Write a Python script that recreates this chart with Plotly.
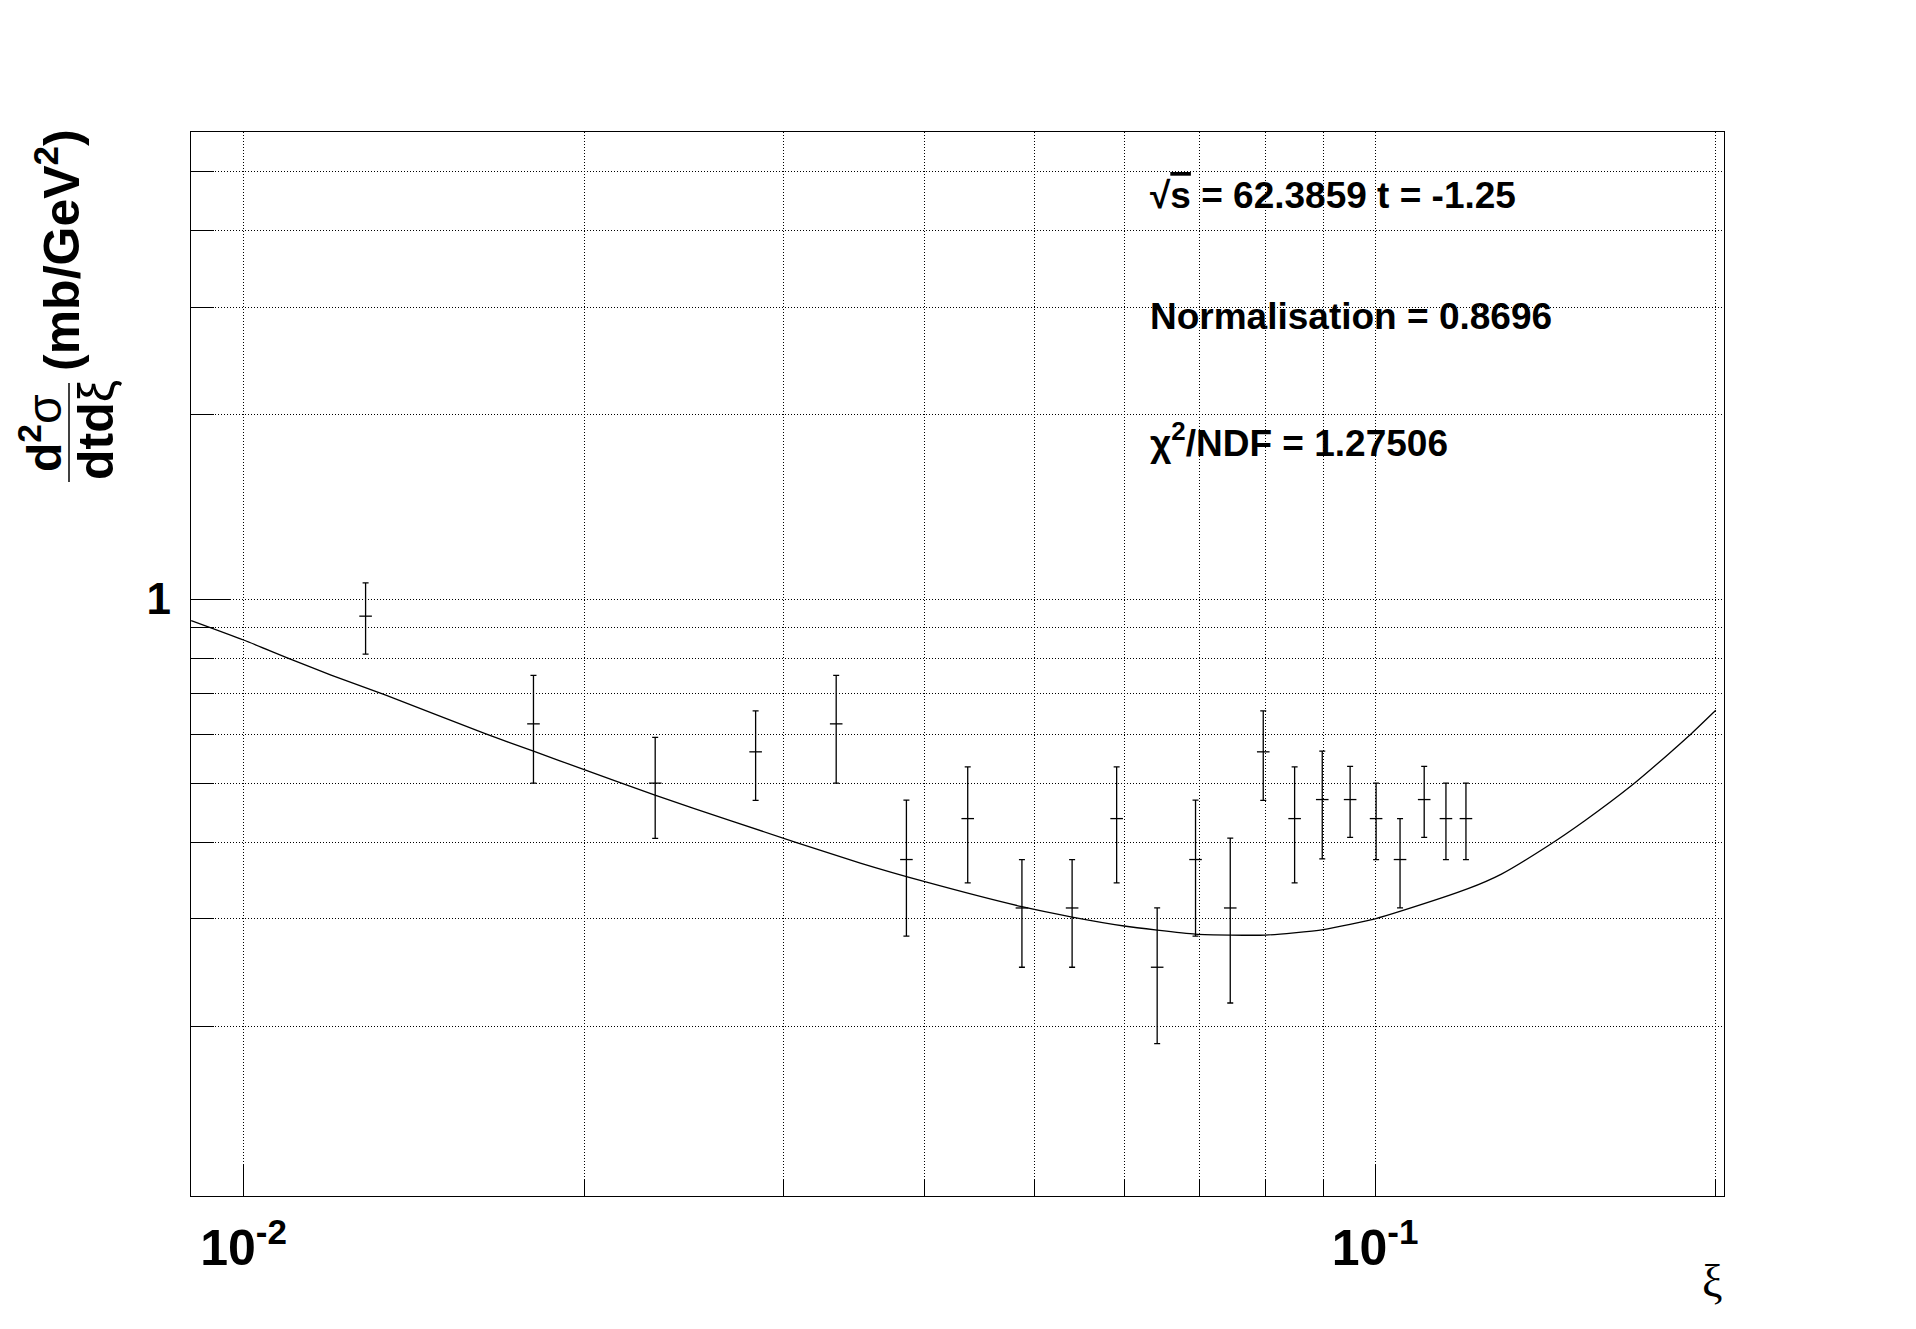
import plotly.graph_objects as go

# ---- data ----
xi_data = [0.01282, 0.01804, 0.02311, 0.02835, 0.03340, 0.03853, 0.04365, 0.04874,
           0.05398, 0.05910, 0.06418, 0.06939, 0.07447, 0.07964, 0.08489, 0.08980,
           0.09504, 0.10020, 0.10520, 0.11050, 0.11550, 0.12030]
sigma_data = [0.9375, 0.625, 0.5, 0.5625, 0.625, 0.375, 0.4375, 0.3125,
              0.3125, 0.4375, 0.25, 0.375, 0.3125, 0.5625, 0.4375, 0.47,
              0.47, 0.4375, 0.375, 0.47, 0.4375, 0.4375]
sigma_err = [0.125, 0.125, 0.094, 0.094, 0.125, 0.094, 0.094, 0.0625,
             0.0625, 0.094, 0.0625, 0.094, 0.094, 0.094, 0.094, 0.094,
             0.0625, 0.0625, 0.0625, 0.0625, 0.0625, 0.0625]

xi_fit = [0.00899, 0.0100, 0.01103, 0.01195, 0.01334, 0.01633, 0.01804, 0.0200,
          0.0231, 0.02693, 0.03508, 0.0400, 0.04874, 0.05398, 0.0600, 0.06418,
          0.06939, 0.07447, 0.0800, 0.0900, 0.1000, 0.1055, 0.1208, 0.1293,
          0.1422, 0.1532, 0.1684, 0.1815, 0.1893, 0.2000]
sigma_fit = [0.922, 0.857, 0.796, 0.751, 0.697, 0.603, 0.564, 0.526,
             0.478, 0.434, 0.370, 0.345, 0.314, 0.302, 0.292, 0.2875,
             0.2832, 0.2822, 0.2822, 0.288, 0.300, 0.309, 0.336, 0.355,
             0.395, 0.434, 0.495, 0.557, 0.597, 0.658]

x_major = [0.01, 0.1]
x_major_text = ["10<sup>-2</sup>", "10<sup>-1</sup>"]
x_minor = [0.02, 0.03, 0.04, 0.05, 0.06, 0.07, 0.08, 0.09, 0.2]
y_major = [1]
y_major_text = ["1"]
y_minor = [0.2, 0.3, 0.4, 0.5, 0.6, 0.7, 0.8, 0.9, 2, 3, 4, 5]

info_lines = ["√<span style='text-decoration:overline'>s</span> = 62.3859 t = -1.25",
              "Normalisation = 0.8696",
              "χ<sup>2</sup>/NDF = 1.27506"]

# page body has an 8px margin: figure drawn at offset (8, 8)
OFF = 8
W, H = 1900, 1313
L, R, T, B = 191, 1724, 132, 1196          # plot frame in window pixels
pw, ph = R - L, B - T


def px(x):
    return (x - L) / pw


def py(y):
    return (B - y) / ph


FONT = "Liberation Sans"

fig = go.Figure()
fig.add_trace(go.Scatter(
    x=xi_fit, y=sigma_fit, mode="lines",
    line=dict(color="black", width=1.3, shape="spline", smoothing=0.6),
    showlegend=False, hoverinfo="skip"))
fig.add_trace(go.Scatter(
    x=xi_data, y=sigma_data, mode="markers",
    marker=dict(symbol="line-ew", size=9, color="black",
                line=dict(color="black", width=1.3)),
    error_y=dict(type="data", array=sigma_err, visible=True,
                 color="black", thickness=1.3, width=3),
    showlegend=False))

grid_common = dict(showgrid=True, gridcolor="black", gridwidth=1, griddash="1px,2px")

fig.update_xaxes(
    type="log", range=[-2.0464, -0.6917],
    showline=True, linecolor="black", linewidth=1.2, mirror=True,
    tickmode="array", tickvals=x_major, ticktext=x_major_text,
    ticks="inside", ticklen=32, tickwidth=1.2, tickcolor="black",
    tickfont=dict(family=FONT, size=50, color="black", weight="bold"),
    ticklabelstandoff=8,
    zeroline=False,
    minor=dict(tickmode="array", tickvals=x_minor, ticks="inside", ticklen=17,
               tickwidth=1.2, tickcolor="black", **grid_common),
    **grid_common)
fig.update_yaxes(
    type="log", range=[-0.9761, 0.7636],
    showline=True, linecolor="black", linewidth=1.2, mirror=True,
    tickmode="array", tickvals=y_major, ticktext=y_major_text,
    ticks="inside", ticklen=39, tickwidth=1.2, tickcolor="black",
    tickfont=dict(family=FONT, size=44, color="black", weight="bold"),
    ticklabelstandoff=10,
    zeroline=False,
    minor=dict(tickmode="array", tickvals=y_minor, ticks="inside", ticklen=23,
               tickwidth=1.2, tickcolor="black", **grid_common),
    **grid_common)

annotations = []
info_y = [195, 316, 440]
for txt, yy in zip(info_lines, info_y):
    annotations.append(dict(
        text=txt, xref="paper", yref="paper", x=px(1148), y=py(yy),
        xanchor="left", yanchor="middle", showarrow=False,
        font=dict(family=FONT, size=37, color="black", weight="bold")))

# y-axis title: fraction d²σ / dtdξ followed by (mb/GeV²), rotated
annotations.append(dict(
    text="(mb/GeV<sup>2</sup>)", xref="paper", yref="paper",
    x=px(58), y=py(250), xanchor="center", yanchor="middle",
    textangle=-90, showarrow=False,
    font=dict(family=FONT, size=50, color="black", weight="bold")))
annotations.append(dict(
    text="d<sup>2</sup><span style='font-weight:normal'>σ</span>",
    xref="paper", yref="paper",
    x=px(41), y=py(433), xanchor="center", yanchor="middle",
    textangle=-90, showarrow=False,
    font=dict(family=FONT, size=48, color="black", weight="bold")))
annotations.append(dict(
    text="dtd<span style='font-weight:normal'>ξ</span>",
    xref="paper", yref="paper",
    x=px(96), y=py(430), xanchor="center", yanchor="middle",
    textangle=-90, showarrow=False,
    font=dict(family=FONT, size=50, color="black", weight="bold")))
# x-axis title
annotations.append(dict(
    text="ξ", xref="paper", yref="paper",
    x=px(1712), y=py(1281), xanchor="center", yanchor="middle",
    showarrow=False,
    font=dict(family="Liberation Serif", size=46, color="black")))

shapes = [dict(type="line", xref="paper", yref="paper",
               x0=px(69), x1=px(69), y0=py(383), y1=py(482),
               line=dict(color="black", width=1.5))]

fig.update_layout(
    width=W, height=H,
    margin=dict(l=L - OFF, r=W - (R - OFF), t=T - OFF, b=H - (B - OFF), pad=0),
    paper_bgcolor="white", plot_bgcolor="white",
    annotations=annotations, shapes=shapes,
    showlegend=False,
)

fig.write_html("out.html")
